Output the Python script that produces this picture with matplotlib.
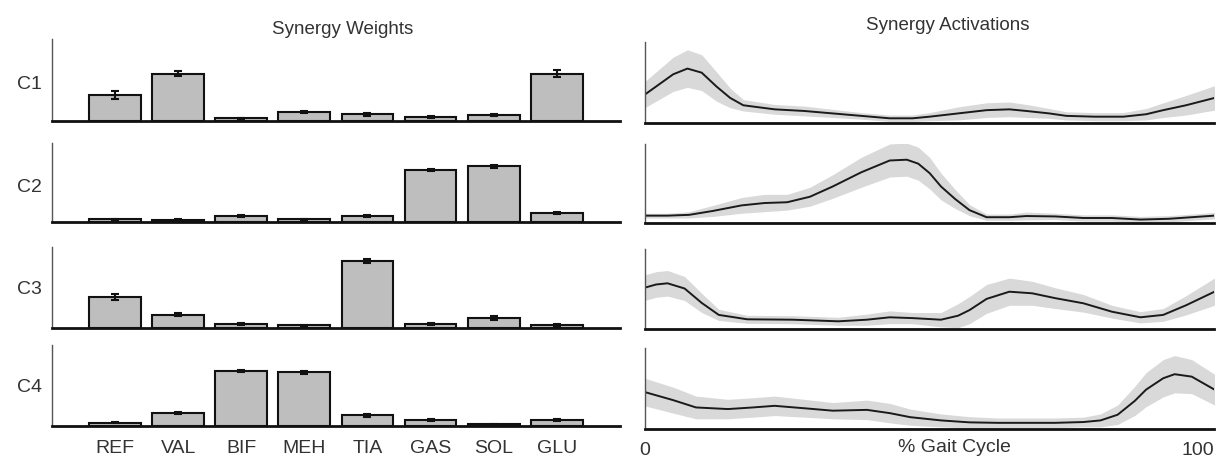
import numpy as np
import matplotlib.pyplot as plt

plt.rcParams['font.family'] = ['Liberation Sans', 'DejaVu Sans']

# synergy weights (bar heights, normalised) and their errors
muscles = ["REF", "VAL", "BIF", "MEH", "TIA", "GAS", "SOL", "GLU"]
synergies = ["C1", "C2", "C3", "C4"]

w_c1 = [0.32, 0.58, 0.03, 0.11, 0.08, 0.05, 0.07, 0.58]
w_c2 = [0.03, 0.02, 0.07, 0.03, 0.07, 0.65, 0.70, 0.11]
w_c3 = [0.38, 0.16, 0.05, 0.03, 0.83, 0.05, 0.12, 0.03]
w_c4 = [0.04, 0.16, 0.68, 0.66, 0.13, 0.07, 0.02, 0.07]

e_c1 = [0.05, 0.03, 0.01, 0.015, 0.015, 0.015, 0.012, 0.04]
e_c2 = [0.01, 0.01, 0.012, 0.01, 0.012, 0.012, 0.018, 0.018]
e_c3 = [0.035, 0.02, 0.012, 0.008, 0.02, 0.012, 0.02, 0.01]
e_c4 = [0.008, 0.015, 0.012, 0.015, 0.015, 0.015, 0.008, 0.012]

# synergy activations over the gait cycle (mean and sd)
a_c1_x = [0, 3, 5, 7.5, 10, 12.6, 15, 17.3, 22.8, 28, 33, 38, 43, 47, 50, 55, 60, 64, 67, 71, 74, 79, 84, 88, 91, 95, 100]
a_c1_m = [0.35, 0.50, 0.60, 0.67, 0.62, 0.45, 0.31, 0.22, 0.17, 0.15, 0.12, 0.09, 0.06, 0.06, 0.08, 0.12, 0.16, 0.17, 0.15, 0.12, 0.09, 0.08, 0.08, 0.11, 0.16, 0.22, 0.31]
a_c1_s = [0.16, 0.19, 0.21, 0.23, 0.22, 0.18, 0.12, 0.07, 0.06, 0.06, 0.05, 0.04, 0.04, 0.04, 0.05, 0.08, 0.09, 0.09, 0.08, 0.06, 0.05, 0.05, 0.05, 0.07, 0.09, 0.12, 0.15]

a_c2_x = [0, 4, 7.8, 12, 17, 21, 25, 29, 33, 38, 43, 46, 48, 50, 52, 54.5, 57, 60, 64, 67, 72, 77, 82, 87, 92, 96, 100]
a_c2_m = [0.09, 0.09, 0.10, 0.15, 0.22, 0.25, 0.26, 0.33, 0.46, 0.64, 0.79, 0.80, 0.75, 0.63, 0.46, 0.30, 0.16, 0.07, 0.07, 0.085, 0.08, 0.06, 0.06, 0.04, 0.05, 0.07, 0.09]
a_c2_s = [0.03, 0.03, 0.04, 0.07, 0.10, 0.11, 0.10, 0.12, 0.15, 0.19, 0.21, 0.21, 0.21, 0.20, 0.17, 0.12, 0.07, 0.04, 0.04, 0.05, 0.04, 0.04, 0.04, 0.04, 0.04, 0.04, 0.04]

a_c3_x = [0, 2, 4, 7, 10, 13, 18, 26, 34, 39, 43, 47, 52, 55, 57, 60, 64, 68, 72, 77, 82, 87, 91, 95, 100]
a_c3_m = [0.52, 0.56, 0.575, 0.51, 0.33, 0.18, 0.125, 0.12, 0.10, 0.12, 0.15, 0.14, 0.12, 0.17, 0.24, 0.38, 0.47, 0.45, 0.39, 0.325, 0.22, 0.15, 0.18, 0.30, 0.47]
a_c3_s = [0.16, 0.16, 0.16, 0.15, 0.12, 0.07, 0.05, 0.05, 0.05, 0.07, 0.08, 0.07, 0.09, 0.15, 0.17, 0.18, 0.17, 0.15, 0.13, 0.11, 0.08, 0.07, 0.08, 0.12, 0.17]

a_c4_x = [0, 5, 9, 14.6, 19, 22.8, 28, 33, 39, 43, 46.6, 52, 57, 62, 67, 72, 77, 80, 83, 86, 88, 91, 93, 96, 100]
a_c4_m = [0.46, 0.36, 0.27, 0.25, 0.27, 0.29, 0.26, 0.23, 0.24, 0.20, 0.15, 0.11, 0.086, 0.08, 0.08, 0.08, 0.09, 0.11, 0.18, 0.35, 0.49, 0.63, 0.68, 0.65, 0.49]
a_c4_s = [0.17, 0.16, 0.14, 0.12, 0.12, 0.12, 0.11, 0.10, 0.12, 0.12, 0.10, 0.08, 0.07, 0.06, 0.06, 0.06, 0.06, 0.08, 0.12, 0.18, 0.21, 0.23, 0.23, 0.21, 0.19]

weights = [w_c1, w_c2, w_c3, w_c4]
errors = [e_c1, e_c2, e_c3, e_c4]
acts = [(a_c1_x, a_c1_m, a_c1_s), (a_c2_x, a_c2_m, a_c2_s),
        (a_c3_x, a_c3_m, a_c3_s), (a_c4_x, a_c4_m, a_c4_s)]

fig = plt.figure(figsize=(12.28, 4.58), dpi=100)

# axes boxes in figure fractions: (bottom, height)
left_rows = [(0.736, 0.178), (0.516, 0.1725), (0.2845, 0.1755), (0.070, 0.177)]
right_rows = [(0.731, 0.178), (0.5137, 0.172), (0.281, 0.1747), (0.0626, 0.177)]
label_y = [0.815, 0.590, 0.367, 0.153]

txt = "#333333"
pos = np.arange(1, len(muscles) + 1)

for i in range(4):
    # bar chart of weights
    ax = fig.add_axes([0.0423, left_rows[i][0], 0.4625, left_rows[i][1]])
    ax.bar(pos, weights[i], width=0.82, color="#bebebe", edgecolor="#111111", linewidth=1.5)
    ax.errorbar(pos, weights[i], yerr=errors[i], fmt="none", ecolor="#111111",
                elinewidth=1.5, capsize=3, capthick=1.5)
    ax.set_xlim(0, 9)
    ax.set_ylim(0, 1)
    ax.set_yticks([])
    for s in ["top", "right"]:
        ax.spines[s].set_visible(False)
    ax.spines["left"].set_color("#555555")
    ax.spines["left"].set_linewidth(1.0)
    ax.spines["bottom"].set_color("#111111")
    ax.spines["bottom"].set_linewidth(2.0)
    if i == 3:
        ax.set_xticks(pos)
        ax.set_xticklabels(muscles, fontsize=14, color=txt)
        ax.tick_params(axis="x", length=0, pad=10)
    else:
        ax.set_xticks([])
    fig.text(0.024, label_y[i], synergies[i], fontsize=14, color=txt, ha="center", va="center")

    # activation curves
    x, m, s = acts[i]
    x = np.array(x)
    m = np.array(m)
    s = np.array(s)
    ax2 = fig.add_axes([0.525, right_rows[i][0], 0.464, right_rows[i][1]])
    ax2.fill_between(x, m - s, m + s, color="#d9d9d9", linewidth=0)
    ax2.plot(x, m, color="#1a1a1a", linewidth=1.4)
    ax2.set_xlim(0, 100)
    ax2.set_ylim(0, 1)
    ax2.set_yticks([])
    for sp in ["top", "right"]:
        ax2.spines[sp].set_visible(False)
    ax2.spines["left"].set_color("#555555")
    ax2.spines["left"].set_linewidth(1.0)
    ax2.spines["bottom"].set_color("#111111")
    ax2.spines["bottom"].set_linewidth(2.0)
    if i == 3:
        ax2.set_xticks([0, 100])
        labels = ax2.set_xticklabels(["0", "100"], fontsize=14, color=txt)
        labels[1].set_horizontalalignment("right")
        ax2.tick_params(axis="x", length=0, pad=9)
    else:
        ax2.set_xticks([])

fig.text(0.777, 0.024, "% Gait Cycle", fontsize=14, color=txt, ha="center", va="center")
fig.text(0.279, 0.935, "Synergy Weights", fontsize=13.5, color=txt, ha="center", va="center")
fig.text(0.772, 0.945, "Synergy Activations", fontsize=13.5, color=txt, ha="center", va="center")

fig.savefig("out.png", dpi=100)
